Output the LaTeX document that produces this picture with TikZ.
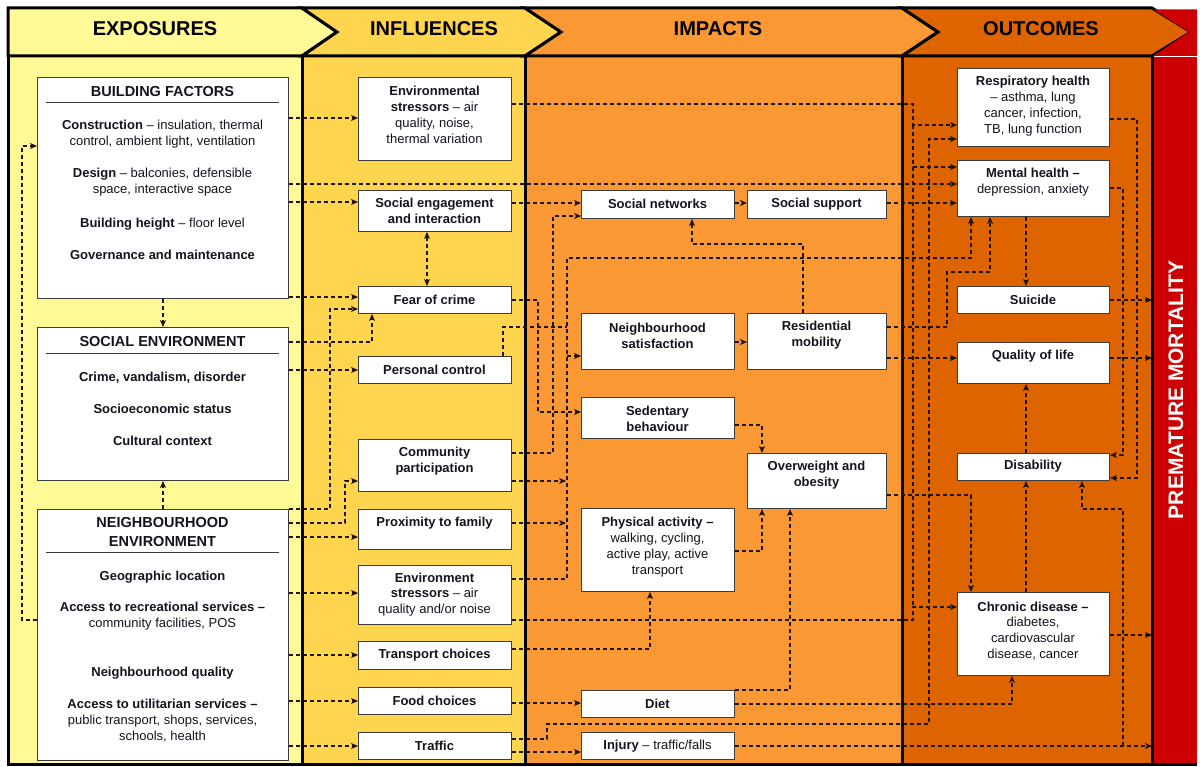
\documentclass[tikz,border=0pt]{standalone}
\usepackage{fontspec}
\setmainfont{Liberation Sans}
\usetikzlibrary{arrows.meta,calc}
\definecolor{expo}{RGB}{255,250,150}
\definecolor{infl}{RGB}{255,213,79}
\definecolor{impa}{RGB}{250,152,51}
\definecolor{outc}{RGB}{222,100,0}
\definecolor{pmred}{RGB}{204,0,0}
\definecolor{boxline}{RGB}{60,60,60}
\definecolor{linecol}{RGB}{30,20,10}
\definecolor{txtcol}{RGB}{20,20,30}
\newcommand\mkbox[7]{%
  \node[bx,minimum width={#4-#2},minimum height={#5-#3}] (#1) at (#2,#3) {};
  \node[tx] (#1t) at ({(#2+#4)/2},#6) {#7};}
\begin{document}
\begin{tikzpicture}[x=1pt,y=-1pt,
  bx/.style={draw=boxline,fill=white,line width=1pt,inner sep=0pt,anchor=north west},
  tx/.style={align=center,inner sep=0pt,text=txtcol,font=\fontsize{13}{15.8}\selectfont},
  ttl/.style={align=center,inner sep=0pt,text=txtcol,font=\fontsize{14.5}{19}\selectfont\bfseries},
  hd/.style={inner sep=0pt,text=black,font=\fontsize{20}{24}\selectfont\bfseries},
  tip/.tip={Stealth[length=7pt,width=6pt,inset=2pt]},
  conn/.style={draw=linecol,line width=1.1pt,dash pattern=on 4pt off 3pt,-tip},
  both/.style={draw=linecol,line width=1.1pt,dash pattern=on 4pt off 3pt,tip-tip},
  lnk/.style={draw=linecol,line width=1.1pt,dash pattern=on 4pt off 3pt},
  colb/.style={draw=black,line width=3pt},
  uline/.style={draw=boxline,line width=0.8pt}]
\useasboundingbox (0,0) rectangle (1200,767);
% ---------- columns ----------
\fill[expo] (8,57) rectangle (302,764);
\fill[infl] (302,57) rectangle (525,764);
\fill[impa] (525,57) rectangle (902,764);
\fill[outc] (902,57) rectangle (1152,764);
\node[fill=pmred,inner sep=0pt,minimum width=45,minimum height=707,anchor=north west] (pm) at (1152,57) {};
\draw[colb] (8,57) -- (8,764) -- (1197,764);
\draw[colb] (302,57) -- (302,764);
\draw[colb] (525,57) -- (525,764);
\draw[colb] (902,57) -- (902,764);
\draw[colb] (1152,57) -- (1152,764);
% ---------- header ----------
\filldraw[fill=expo,draw=black,line width=3pt,line join=miter] (8,8) -- (302,8) -- (337,32) -- (302,56) -- (8,56) -- cycle;
\filldraw[fill=infl,draw=black,line width=3pt,line join=miter] (302,8) -- (525,8) -- (561,32) -- (525,56) -- (302,56) -- (337,32) -- cycle;
\filldraw[fill=impa,draw=black,line width=3pt,line join=miter] (525,8) -- (902,8) -- (938,32) -- (902,56) -- (525,56) -- (561,32) -- cycle;
\filldraw[fill=outc,draw=black,line width=3pt,line join=miter] (902,8) -- (1152,8) -- (1191,32) -- (1152,56) -- (902,56) -- (938,32) -- cycle;
\fill[pmred] (1153.5,9.5) -- (1197,9.5) -- (1197,56) -- (1153.5,56) -- (1189,32) -- cycle;
\node[hd] (h1) at (155,29) {EXPOSURES};
\node[hd] (h2) at (434,29) {INFLUENCES};
\node[hd] (h3) at (718,29) {IMPACTS};
\node[hd] (h4) at (1041,29) {OUTCOMES};
\node[inner sep=0pt,text=white,rotate=90,font=\fontsize{21}{24}\selectfont\bfseries] (pmt) at (1176,390) {PREMATURE MORTALITY};
% ---------- exposures ----------
\node[bx,minimum width=251,minimum height=221] (bf) at (37,77) {};
\node[ttl] (bf0) at (162.5,92) {BUILDING FACTORS};
\draw[uline] (46,102) -- (279,102);
\node[tx] (bf1) at (162.5,134.5) {\textbf{Construction} – insulation, thermal\\control, ambient light, ventilation};
\node[tx] (bf2) at (162.5,182.5) {\textbf{Design} – balconies, defensible\\space, interactive space};
\node[tx] (bf3) at (162.5,224) {\textbf{Building height} – floor level};
\node[tx] (bf4) at (162.5,255) {\textbf{Governance and maintenance}};
\node[bx,minimum width=251,minimum height=153] (se) at (37,327) {};
\node[ttl] (se0) at (162.5,342) {SOCIAL ENVIRONMENT};
\draw[uline] (46,353) -- (279,353);
\node[tx] (se1) at (162.5,378) {\textbf{Crime, vandalism, disorder}};
\node[tx] (se2) at (162.5,409) {\textbf{Socioeconomic status}};
\node[tx] (se3) at (162.5,441) {\textbf{Cultural context}};
\node[bx,minimum width=251,minimum height=251] (ne) at (37,509) {};
\node[ttl] (ne0) at (162.5,532.5) {NEIGHBOURHOOD\\ENVIRONMENT};
\draw[uline] (46,552) -- (279,552);
\node[tx] (ne1) at (162.5,577) {\textbf{Geographic location}};
\node[tx] (ne2) at (162.5,616) {\textbf{Access to recreational services –}\\community facilities, POS};
\node[tx] (ne3) at (162.5,673) {\textbf{Neighbourhood quality}};
\node[tx] (ne4) at (162.5,720.5) {\textbf{Access to utilitarian services –}\\public transport, shops, services,\\schools, health};
% ---------- influences ----------
\mkbox{es1}{358}{77}{511}{160}{115}{\textbf{Environmental}\\\textbf{stressors} – air\\quality, noise,\\thermal variation}
\mkbox{seng}{358}{190}{511}{231}{211}{\textbf{Social engagement}\\\textbf{and interaction}}
\mkbox{foc}{358}{286}{511}{313}{299.5}{\textbf{Fear of crime}}
\mkbox{pc}{358}{356}{511}{383}{369.5}{\textbf{Personal control}}
\mkbox{cp}{358}{439}{511}{491}{461.5}{\textbf{Community}\\\textbf{participation}}
\mkbox{pf}{358}{509}{511}{549}{523}{\textbf{Proximity to family}}
\mkbox{es2}{358}{565}{511}{624}{594.5}{\textbf{Environment}\\\textbf{stressors} – air\\quality and/or noise}
\mkbox{tc}{358}{641}{511}{669}{655}{\textbf{Transport choices}}
\mkbox{fc}{358}{687}{511}{714}{700.5}{\textbf{Food choices}}
\mkbox{tr}{358}{732}{511}{759}{745.5}{\textbf{Traffic}}
% ---------- impacts ----------
\mkbox{sn}{581}{190}{734}{218}{204}{\textbf{Social networks}}
\mkbox{ss}{747}{190}{886}{218}{204}{\textbf{Social support}}
\mkbox{ns}{581}{313}{734}{369}{335.5}{\textbf{Neighbourhood}\\\textbf{satisfaction}}
\mkbox{rm}{747}{313}{886}{369}{335.5}{\textbf{Residential}\\\textbf{mobility}}
\mkbox{sb}{581}{397}{734}{438}{419}{\textbf{Sedentary}\\\textbf{behaviour}}
\mkbox{ow}{747}{453}{886}{508}{475.5}{\textbf{Overweight and}\\\textbf{obesity}}
\mkbox{pa}{581}{508}{734}{591}{547}{\textbf{Physical activity –}\\walking, cycling,\\active play, active\\transport}
\mkbox{di}{581}{690}{734}{717}{704}{\textbf{Diet}}
\mkbox{inj}{581}{732}{734}{759}{746}{\textbf{Injury} – traffic/falls}
% ---------- outcomes ----------
\mkbox{rh}{957}{68}{1109}{146}{106}{\textbf{Respiratory health}\\– asthma, lung\\cancer, infection,\\TB, lung function}
\mkbox{mh}{957}{160}{1109}{216}{182}{\textbf{Mental health –}\\depression, anxiety}
\mkbox{su}{957}{286}{1109}{313}{299.5}{\textbf{Suicide}}
\mkbox{ql}{957}{342}{1109}{383}{356}{\textbf{Quality of life}}
\mkbox{ds}{957}{453}{1109}{480}{466.5}{\textbf{Disability}}
\mkbox{cd}{957}{592}{1109}{675}{631}{\textbf{Chronic disease –}\\diabetes,\\cardiovascular\\disease, cancer}
% ---------- connectors: exposures ----------
\draw[conn] (bf.south) -- (se.north);
\draw[conn] (ne.north) -- (se.south);
\draw[conn] (ne.west|-0,620) -- (22,620) -- (22,146) -- (bf.west|-0,146);
\draw[conn] (bf.east|-0,118) -- (es1.west|-0,118);
\draw[conn] (bf.east|-0,184) -- (mh.west|-0,184);
\draw[conn] (bf.east|-0,202) -- (seng.west|-0,202);
\draw[conn] (bf.east|-0,297) -- (foc.west|-0,297);
\draw[conn] (se.east|-0,342) -- (372,342) -- (foc.south-|372,0);
\draw[conn] (se.east|-0,370) -- (pc.west|-0,370);
\draw[conn] (ne.east|-0,509) -- (330,509) -- (330,309) -- (foc.west|-0,309);
\draw[conn] (ne.east|-0,523) -- (345,523) -- (345,481) -- (cp.west|-0,481);
\draw[conn] (ne.east|-0,537) -- (pf.west|-0,537);
\draw[conn] (ne.east|-0,593) -- (es2.west|-0,593);
\draw[conn] (ne.east|-0,655) -- (tc.west|-0,655);
\draw[conn] (ne.east|-0,701) -- (fc.west|-0,701);
\draw[conn] (ne.east|-0,746) -- (tr.west|-0,746);
% ---------- connectors: influences ----------
\draw[both] (seng.south-|427,0) -- (foc.north-|427,0);
\draw[conn] (es1.east|-0,104) -- (913,104) -- (913,125) -- (rh.west|-0,125);
\draw[conn] (913,125) -- (913,167) -- (mh.west|-0,167);
\draw[lnk] (913,167) -- (913,607);
\draw[conn] (es2.east|-0,620) -- (913,620) -- (913,607) -- (cd.west|-0,607);
\draw[conn] (seng.east|-0,203) -- (sn.west|-0,203);
\draw[conn] (sn.east|-0,203) -- (ss.west|-0,203);
\draw[conn] (ss.east|-0,203) -- (mh.west|-0,203);
\draw[conn] (foc.east|-0,300) -- (538,300) -- (538,412) -- (sb.west|-0,412);
\draw[lnk] (pc.north-|503,0) -- (503,327) -- (567,327);
\draw[conn] (es2.east|-0,579) -- (567,579) -- (567,258) -- (971,258) -- (mh.south-|971,0);
\draw[conn] (567,356) -- (ns.west|-0,356);
\draw[conn] (cp.east|-0,481) -- (566,481);
\draw[conn] (pf.east|-0,523) -- (566,523);
\draw[conn] (cp.east|-0,453) -- (553,453) -- (553,216) -- (sn.west|-0,216);
\draw[conn] (tc.east|-0,649) -- (650,649) -- (pa.south-|650,0);
\draw[conn] (fc.east|-0,703) -- (di.west|-0,703);
\draw[conn] (tr.east|-0,739) -- (547,739) -- (547,724) -- (929,724) -- (929,139) -- (rh.west|-0,139);
\draw[conn] (tr.east|-0,752) -- (inj.west|-0,752);
% ---------- connectors: impacts ----------
\draw[conn] (ns.east|-0,342) -- (rm.west|-0,342);
\draw[conn] (rm.north-|803,0) -- (803,244) -- (692,244) -- (sn.south-|692,0);
\draw[conn] (sb.east|-0,425) -- (762,425) -- (ow.north-|762,0);
\draw[conn] (pa.east|-0,551) -- (762,551) -- (ow.south-|762,0);
\draw[conn] (di.east|-0,690) -- (790,690) -- (ow.south-|790,0);
\draw[conn] (rm.east|-0,327) -- (947,327) -- (947,272) -- (990,272) -- (mh.south-|990,0);
\draw[conn] (rm.east|-0,358) -- (ql.west|-0,358);
\draw[conn] (ow.east|-0,495) -- (971,495) -- (cd.north-|971,0);
\draw[conn] (di.east|-0,704) -- (1012,704) -- (cd.south-|1012,0);
\draw[conn] (inj.east|-0,746) -- (pm.west|-0,746);
% ---------- connectors: outcomes ----------
\draw[conn] (mh.south-|1026,0) -- (su.north-|1026,0);
\draw[conn] (ds.north-|1026,0) -- (ql.south-|1026,0);
\draw[conn] (cd.north-|1026,0) -- (ds.south-|1026,0);
\draw[conn] (rh.east|-0,119) -- (1137,119) -- (1137,478) -- (ds.east|-0,478);
\draw[conn] (mh.east|-0,188) -- (1123,188) -- (1123,455) -- (ds.east|-0,455);
\draw[conn] (1123,746) -- (1123,509) -- (1082,509) -- (ds.south-|1082,0);
\draw[conn] (su.east|-0,300) -- (pm.west|-0,300);
\draw[conn] (ql.east|-0,358) -- (pm.west|-0,358);
\draw[conn] (cd.east|-0,635) -- (pm.west|-0,635);
\end{tikzpicture}
\end{document}
